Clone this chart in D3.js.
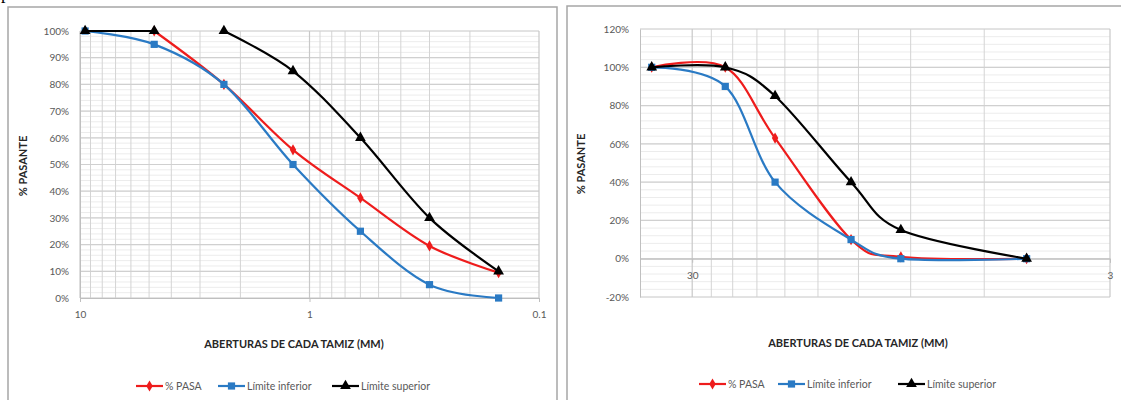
<!DOCTYPE html>
<html>
<head>
<meta charset="utf-8">
<script src="https://cdn.jsdelivr.net/npm/d3@7"></script>
<style>
  body { margin: 0; background: #fff; }
  svg { display: block; font-family: Lato, "Open Sans", sans-serif; }
</style>
</head>
<body>
<svg id="chart" width="1121" height="400"></svg>
<script>
// gráfico izquierdo: arena
const leftSieves = [9.5, 4.75, 2.36, 1.18, 0.6, 0.3, 0.15];
const leftPasa = [null, 100, 80, 55.5, 37.5, 19.5, 9.5];
const leftInferior = [100, 95, 80, 50, 25, 5, 0];
const leftSuperior = [100, 100, 100, 85, 60, 30, 10];
const leftSuperiorBreaks = [1]; // sin línea entre 4.75 y 2.36
const leftXTicks = [10, 1, 0.1];
const leftYTicks = [0, 10, 20, 30, 40, 50, 60, 70, 80, 90, 100];

// gráfico derecho: grava
const rightSieves = [37.5, 25, 19, 12.5, 9.5, 4.75];
const rightPasa = [100, 100, 63, 10, 1, 0];
const rightInferior = [100, 90, 40, 10, 0, 0];
const rightSuperior = [100, 100, 85, 40, 15, 0];
const rightXTicks = [30, 3];
const rightYTicks = [-20, 0, 20, 40, 60, 80, 100, 120];

const seriesNames = ['% PASA', 'Límite inferior', 'Límite superior'];
const xTitle = 'ABERTURAS DE CADA TAMIZ (MM)';
const yTitle = '% PASANTE';

const colors = ['#ee1c1c', '#2a7ac4', '#000000'];
const symbols = [d3.symbolDiamond, d3.symbolSquare, d3.symbolTriangle];
const symbolSizes = [36, 52, 50];

const svg = d3.select('#chart');

// fragmento de texto cortado arriba a la izquierda
svg.append('text').attr('x', 1).attr('y', -1)
    .attr('font-family', 'Liberation Serif').attr('font-size', 18).text('p');

const drawChart = (cfg) => {
    const g = svg.append('g');

    g.append('rect')
        .attr('x', cfg.frame[0]).attr('y', cfg.frame[1])
        .attr('width', cfg.frame[2]).attr('height', cfg.frame[3])
        .attr('fill', '#fff').attr('stroke', '#a6a6a6').attr('stroke-width', 1.5);

    const x = d3.scaleLog().domain(cfg.xDomain).range([cfg.plot.left, cfg.plot.right]);
    const y = d3.scaleLinear().domain(cfg.yDomain).range([cfg.plot.bottom, cfg.plot.top]);

    // rejilla menor horizontal
    g.append('g').selectAll('line')
        .data(d3.range(cfg.yDomain[0], cfg.yDomain[1] + 0.01, cfg.yMinor))
        .join('line')
        .attr('x1', cfg.plot.left).attr('x2', cfg.plot.right)
        .attr('y1', d => y(d)).attr('y2', d => y(d))
        .attr('stroke', '#ececec').attr('stroke-width', 1);

    // rejilla menor vertical
    g.append('g').selectAll('line')
        .data(cfg.xMinor)
        .join('line')
        .attr('x1', d => x(d)).attr('x2', d => x(d))
        .attr('y1', cfg.plot.top).attr('y2', cfg.plot.bottom)
        .attr('stroke', '#d4d4d4').attr('stroke-width', 1);

    // rejilla mayor
    g.append('g').selectAll('line')
        .data(cfg.yTicks)
        .join('line')
        .attr('x1', cfg.plot.left).attr('x2', cfg.plot.right)
        .attr('y1', d => y(d)).attr('y2', d => y(d))
        .attr('stroke', '#d0d0d0').attr('stroke-width', 1.2);

    g.append('g').selectAll('line')
        .data(cfg.xTicks)
        .join('line')
        .attr('x1', d => x(d)).attr('x2', d => x(d))
        .attr('y1', cfg.plot.top).attr('y2', cfg.plot.bottom)
        .attr('stroke', '#c8c8c8').attr('stroke-width', 1.2);

    // eje Y
    const yAxis = d3.axisLeft(y).tickValues(cfg.yTicks).tickSize(0).tickPadding(11)
        .tickFormat(d => d + '%');
    g.append('g')
        .attr('transform', `translate(${cfg.plot.left},0)`)
        .call(yAxis)
        .call(s => s.select('.domain').attr('stroke', '#bfbfbf'))
        .call(s => s.selectAll('text').attr('fill', '#595959').attr('font-size', 10)
            .attr('font-family', 'Lato, sans-serif'));

    // eje X (cruza en 0%)
    const xAxis = d3.axisBottom(x).tickValues(cfg.xTicks).tickSize(4).tickPadding(9)
        .tickFormat(d => String(d));
    g.append('g')
        .attr('transform', `translate(0,${y(0)})`)
        .call(xAxis)
        .call(s => s.select('.domain').attr('stroke', '#bfbfbf'))
        .call(s => s.selectAll('.tick line').attr('stroke', '#bfbfbf'))
        .call(s => s.selectAll('text').attr('fill', '#595959').attr('font-size', 10)
            .attr('font-family', 'Lato, sans-serif'));

    // títulos
    g.append('text')
        .attr('x', cfg.xTitlePos[0]).attr('y', cfg.xTitlePos[1])
        .attr('text-anchor', 'middle').attr('font-size', 11).attr('font-weight', 'bold')
        .attr('fill', '#262626').text(xTitle);

    g.append('text')
        .attr('transform', `translate(${cfg.yTitlePos[0]},${cfg.yTitlePos[1]}) rotate(-90)`)
        .attr('text-anchor', 'middle').attr('font-size', 11).attr('font-weight', 'bold')
        .attr('fill', '#262626').text(yTitle);

    // series
    const line = d3.line()
        .x(d => x(d.s))
        .y(d => y(d.v))
        .curve(d3.curveCardinal.tension(0));

    cfg.series.forEach((vals, i) => {
        const breaks = (cfg.breaks && cfg.breaks[i]) || [];
        const pts = cfg.sieves.map((s, j) => ({ s: s, v: vals[j], j: j })).filter(d => d.v !== null);
        // partir la serie donde no hay línea
        const segments = [];
        let cur = [];
        pts.forEach(p => {
            cur.push(p);
            if (breaks.includes(p.j)) { segments.push(cur); cur = []; }
        });
        segments.push(cur);

        g.append('g').selectAll('path')
            .data(segments.filter(s => s.length > 1))
            .join('path')
            .attr('d', line)
            .attr('fill', 'none')
            .attr('stroke', colors[i])
            .attr('stroke-width', 2.2);
        g.append('g').selectAll('path')
            .data(pts)
            .join('path')
            .attr('transform', d => `translate(${x(d.s)},${y(d.v)})`)
            .attr('d', d3.symbol().type(symbols[i]).size(symbolSizes[i]))
            .attr('fill', colors[i]);
    });

    // leyenda
    const leg = g.append('g').selectAll('g')
        .data(seriesNames)
        .join('g')
        .attr('transform', (d, i) => `translate(${cfg.legendX[i]},${cfg.legendY})`);
    leg.append('line')
        .attr('x1', 0).attr('x2', 27).attr('y1', 0).attr('y2', 0)
        .attr('stroke', (d, i) => colors[i]).attr('stroke-width', 2.2);
    leg.append('path')
        .attr('transform', 'translate(13.5,0)')
        .attr('d', (d, i) => d3.symbol().type(symbols[i]).size(symbolSizes[i])())
        .attr('fill', (d, i) => colors[i]);
    leg.append('text')
        .attr('x', 29).attr('y', 3.8)
        .attr('font-size', 10.5).attr('fill', '#595959')
        .text(d => d);
};

drawChart({
    frame: [8, 7, 549, 400],
    plot: { left: 80, right: 539, top: 31, bottom: 298 },
    xDomain: [10, 0.1],
    yDomain: [0, 100],
    yMinor: 2,
    xTicks: leftXTicks,
    xMinor: [9, 8, 7, 6, 5, 4, 3, 2, 0.9, 0.8, 0.7, 0.6, 0.5, 0.4, 0.3, 0.2],
    yTicks: leftYTicks,
    sieves: leftSieves,
    series: [leftPasa, leftInferior, leftSuperior],
    breaks: [null, null, leftSuperiorBreaks],
    xTitlePos: [294, 348],
    yTitlePos: [27, 166],
    legendX: [136, 218, 332],
    legendY: 386
});

drawChart({
    frame: [567, 6, 570, 400],
    plot: { left: 640, right: 1110, top: 29, bottom: 297 },
    xDomain: [40, 3],
    yDomain: [-20, 120],
    yMinor: 4,
    xTicks: rightXTicks,
    xMinor: [27, 24, 21, 18, 15, 12, 9, 6],
    yTicks: rightYTicks,
    sieves: rightSieves,
    series: [rightPasa, rightInferior, rightSuperior],
    xTitlePos: [858, 347],
    yTitlePos: [585, 164],
    legendX: [699, 778, 898],
    legendY: 384
});
</script>
</body>
</html>
